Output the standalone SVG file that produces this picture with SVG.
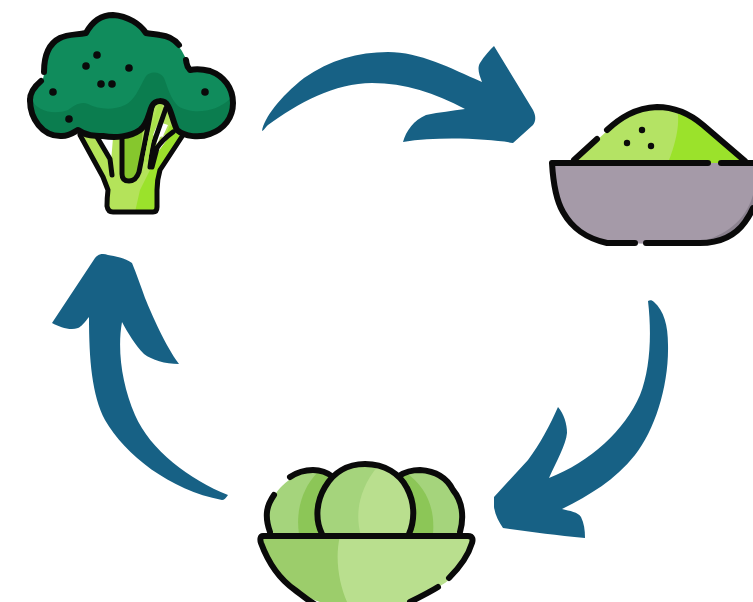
<svg xmlns="http://www.w3.org/2000/svg" width="753" height="602" viewBox="0 0 753 602">
<style>
.ln{fill:none;stroke:#0a0a0a;stroke-width:6;stroke-linecap:round;stroke-linejoin:round}
.thin{fill:none;stroke:#0a0a0a;stroke-width:5;stroke-linecap:round;stroke-linejoin:round}
.dot{fill:#0a0a0a}
.arr{fill:#176185}
</style>
<rect width="753" height="602" fill="#ffffff"/>
<g id="connectors">
<path class="arr" d="M262 131C264 118 280 97 304 78C330 60 358 52 388 52C420 52 450 68 482 82C479 74 477 68 480 63C484 56 490 50 494 46L533 110C536 116 536 121 533 125L513 143C490 139 440 136 403 142C406 131 414 120 426 115C440 112 452 111 465 109C435 93 405 83 372 83C335 83 298 103 268 125C265 128 263 131 262 131Z"/>
<path class="arr" d="M648 301C650 300 652 300 654 302C664 311 668 325 668 345C669 385 655 430 635 455C615 480 590 495 562 509C570 511 578 512 581 517C584 523 585 530 585 538C555 535 530 532 503 528C499 522 495 515 494 507V497L528 460C540 444 550 425 558 407C564 414 567 424 567 433C566 445 556 462 549 478C590 462 625 430 640 395C650 370 652 335 648 301Z"/>
<path class="arr" d="M228 495C226 498 224 500 222 500C170 490 125 455 105 420C92 395 89 360 89 317C85 322 81 327 78 328C70 331 60 327 52 323L95 258C98 254 103 253 108 255C115 256 125 258 132 263C137 275 141 287 145 298C152 315 165 345 179 364C165 364 152 360 144 354C135 345 128 333 122 322C117 350 122 385 135 415C150 450 190 480 228 495Z"/>
</g>
<g id="broccoli">
<path d="M80 133L103 177L108 190L107 208Q108 212 113 212H153Q157 212 157 207V190L160 170L183 135L160 100H140L120 138Z" fill="#b4e35a"/>
<path d="M135 212H153Q157 212 157 207V190L160 170L183 135L170 125L150 170L140 190Z" fill="#9be22b"/>
<path d="M97 137L111 162L113 138ZM153 134L159 122L168 125L158 147ZM160 137L152 160L172 133Z" fill="#ffffff"/>
<path d="M122 140L143 128L139 170L130 182Q122 182 122 172Z" fill="#86c72d"/>
<path class="thin" d="M80 135L103 177L108 190Q107 198 107 206Q108 212 113 212H153Q157 212 157 207V190Q157 180 160 170L183 135"/>
<path class="thin" d="M97 137L110 159L112 175M122 139V174Q122 181 129 181Q136 181 139 172L143 152L152 106M166 108L153 145L150 167M173 132Q162 140 157 148L152 167"/>
<path d="M160 106L151 135L146 160" fill="none" stroke="#a9e14a" stroke-width="4" stroke-linecap="round"/>
<path d="M30 100C30 118 42 137 62 136C70 136 74 132 78 130C86 136 95 136 103 136C115 138 130 137 140 130C148 124 149 112 152 106C155 100 164 99 168 106C172 113 173 122 177 130C185 137 200 138 210 134C224 129 233 118 233 103C233 88 224 76 210 71C202 69 195 69 190 70C186 64 187 60 184 55C179 44 170 36 160 35C154 34 150 34 146 33C140 24 128 16 113 15C100 15 92 22 86 33C76 35 68 34 60 38C48 44 44 58 44 72C44 80 41 82 37 86C33 90 30 94 30 100Z" fill="#108c5c"/>
<path d="M31 98C36 112 55 115 68 110C74 106 80 101 88 104C98 109 112 111 125 105C135 100 138 90 146 76C150 71 160 71 164 78C168 88 170 98 178 106C190 114 215 114 231 98C233 118 224 129 210 134C200 138 185 137 177 130C173 122 172 113 168 106C164 99 155 100 152 106C149 112 148 124 140 130C130 137 115 138 103 136C95 136 86 136 78 130C74 132 70 136 62 136C42 137 30 118 31 98Z" fill="#0b7d4f"/>
<path class="ln" d="M30 100C30 118 42 137 62 136C70 136 74 132 78 130C86 136 95 136 103 136C115 138 130 137 140 130C148 124 149 112 152 106C155 100 164 99 168 106C172 113 173 122 177 130C185 137 200 138 210 134C224 129 233 118 233 103C233 88 224 76 210 71C202 69 195 69 190 70C186 66 187 64 186 60"/>
<path class="ln" d="M179 45C175 40 170 36 160 35C154 34 150 34 146 33C140 24 128 16 113 15C100 15 92 22 86 33C76 35 68 34 60 38C48 44 44 58 44 72M41 81C35 86 30 92 30 100"/>
<circle class="dot" cx="97" cy="55" r="3.8"/><circle class="dot" cx="86" cy="66" r="3.8"/><circle class="dot" cx="129" cy="68" r="3.8"/><circle class="dot" cx="101" cy="84" r="3.8"/><circle class="dot" cx="112" cy="84" r="3.8"/><circle class="dot" cx="53" cy="92" r="3.8"/><circle class="dot" cx="69" cy="119" r="3.8"/><circle class="dot" cx="205" cy="92" r="3.8"/>
</g>
<g id="powder-bowl">
<path d="M573 162L607 131C620 118 635 108 657 107C675 107 690 114 703 125L745 162Z" fill="#b4e364"/>
<path d="M677 109C690 113 697 119 705 127L745 163H668C674 148 681 125 677 109Z" fill="#9be22b"/>
<path class="ln" d="M574 160L597 139M607 130C620 118 635 108 657 107C675 107 690 114 703 125L745 161"/>
<circle class="dot" cx="642" cy="130" r="3.2"/><circle class="dot" cx="627" cy="143" r="3.2"/><circle class="dot" cx="651" cy="146" r="3.2"/>
<path d="M552 163H753V208C745 225 735 235 715 242C700 244 630 244 607 243C585 238 572 228 563 212C556 200 553 180 552 163Z" fill="#a59aa8"/>
<path d="M753 195V208C745 225 735 235 715 242H700C725 235 745 222 753 195Z" fill="#8b828f"/>
<path class="ln" d="M553 163H708M721 163H753M552 163C553 180 556 200 563 212C572 228 585 238 607 243H635M646 243H700C720 243 735 236 745 222Q750 215 753 208"/>
</g>
<g id="seed-bowl">
<path d="M270 534C264 515 270 498 282 486C292 476 305 470 315 470C325 471 330 474 334 478L322 534Z" fill="#a5d47c"/>
<path d="M299 534C296 515 300 490 318 472C325 472 330 474 334 478L322 534Z" fill="#8cc657"/>
<path d="M460 534C466 515 460 498 448 484C438 474 425 470 415 470C407 470 402 472 398 477L410 534Z" fill="#a5d47c"/>
<path d="M433 534C435 510 428 488 405 472L398 477L410 534Z" fill="#8cc657"/>
<path class="ln" d="M270 532C264 515 267 505 274 495M281 477M290 477C296 473 305 470 313 470C322 470 328 473 333 477M399 476C405 472 412 470 420 470C435 471 447 478 453 490C463 502 464 518 460 532"/>
<path d="M322 536C315 520 316 502 325 487C333 473 347 464 365 464C385 464 400 474 407 488C415 503 415 520 409 536Z" fill="#a5d47c"/>
<path d="M361 536C355 515 358 490 378 466C392 470 402 478 407 488C415 503 415 520 409 536Z" fill="#b9df8e"/>
<path class="ln" d="M322 534C315 520 316 502 325 487C333 473 347 464 365 464C385 464 400 474 407 488C415 503 415 520 409 534"/>
<path d="M263 536H468C473 536 473 540 472 543C466 562 455 578 440 586C425 596 400 608 366 608C340 608 310 600 295 590C278 578 268 562 261 543C260 540 260 536 263 536Z" fill="#b9df8e"/>
<path d="M263 536H340C334 560 340 590 350 608C330 606 308 600 295 590C278 578 268 562 261 543C260 540 260 536 263 536Z" fill="#9ccd6b"/>
<path class="ln" d="M263 536H468C473 536 473 540 472 543C469 553 463 564 449 578M438 587C430 592 422 596 410 602M325 610C312 604 303 596 295 590C278 578 268 562 261 543C260 540 260 536 263 536"/>
</g>
</svg>
